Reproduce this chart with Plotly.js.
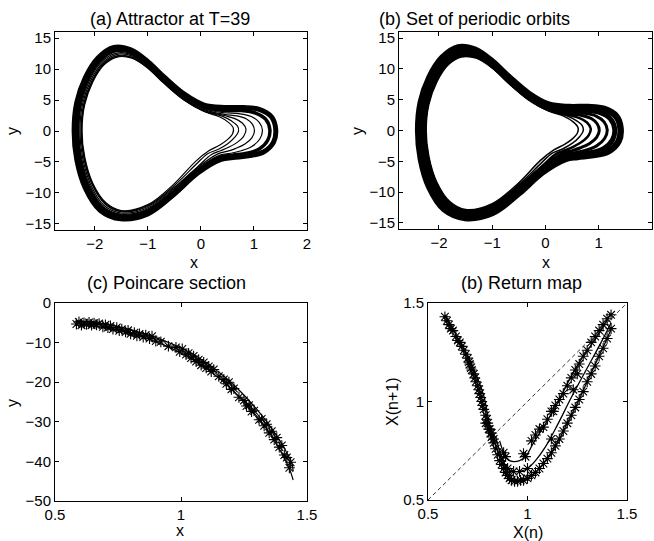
<!DOCTYPE html>
<html>
<head>
<meta charset="utf-8">
<script src="https://cdn.plot.ly/plotly-3.0.1.min.js"></script>
<style>html,body{margin:0;padding:0;background:#fff;}#chart{width:654px;height:541px;}</style>
</head>
<body>
<div id="chart"></div>
<script>
// ---------- (a)/(b) attractor orbits (x, y) ----------
var orbit1X = [-2.39,-2.34,-2.18,-1.94,-1.64,-1.32,-1.0,-0.69,-0.32,0.06,0.44,0.8,1.1,1.33,1.41,1.37,1.18,0.9,0.6,0.38,-0.06,-0.5,-1.0,-1.51,-1.9,-2.18,-2.34,-2.39];
var orbit1Y = [0,4.6,8.6,11.8,13.5,13.1,11.2,8.7,6.0,4.2,3.8,3.8,3.5,2.3,0.3,-1.8,-3.4,-4.0,-4.3,-4.6,-6.8,-10.2,-13.4,-14.2,-12.8,-9.2,-4.6,0];
var orbit2X = [-2.33,-2.28,-2.13,-1.9,-1.62,-1.31,-1.0,-0.69,-0.32,0.06,0.44,0.76,1.03,1.22,1.3,1.26,1.1,0.86,0.6,0.38,-0.06,-0.5,-1.0,-1.5,-1.87,-2.13,-2.28,-2.33];
var orbit2Y = [0,4.5,8.4,11.4,12.95,12.65,10.85,8.35,5.65,3.85,3.3,3.3,2.9,1.9,0.2,-1.5,-2.9,-3.6,-3.9,-4.2,-6.4,-9.8,-12.9,-13.75,-12.4,-8.9,-4.45,0];
var orbit3X = [-2.30,-2.25,-2.10,-1.88,-1.61,-1.31,-1.0,-0.69,-0.32,0.06,0.44,0.72,0.95,1.1,1.16,1.11,0.96,0.76,0.56,0.36,-0.06,-0.5,-1.0,-1.5,-1.85,-2.10,-2.25,-2.30];
var orbit3Y = [0,4.4,8.2,11.1,12.55,12.35,10.6,8.1,5.4,3.6,2.95,2.8,2.35,1.4,0.1,-1.3,-2.5,-3.2,-3.6,-3.9,-6.1,-9.5,-12.6,-13.45,-12.15,-8.7,-4.35,0];
var orbit4X = [-2.28,-2.23,-2.08,-1.86,-1.6,-1.3,-1.0,-0.69,-0.32,0.06,0.44,0.68,0.86,0.97,1.01,0.96,0.83,0.66,0.49,0.32,-0.06,-0.5,-1.0,-1.5,-1.83,-2.08,-2.23,-2.28];
var orbit4Y = [0,4.35,8.1,10.95,12.35,12.15,10.45,7.95,5.25,3.45,2.7,2.45,1.95,1.1,0.0,-1.1,-2.1,-2.8,-3.3,-3.7,-5.9,-9.3,-12.4,-13.25,-12.0,-8.6,-4.3,0];
var orbit5X = [-2.26,-2.21,-2.06,-1.85,-1.59,-1.3,-1.0,-0.69,-0.32,0.06,0.44,0.64,0.78,0.85,0.81,0.69,0.53,0.37,0.2,-0.06,-0.5,-1.0,-1.5,-1.81,-2.06,-2.21,-2.26];
var orbit5Y = [0,4.3,8.0,10.8,12.15,11.95,10.3,7.8,5.1,3.3,2.5,2.0,1.3,0.3,-0.8,-1.8,-2.6,-3.2,-3.8,-5.75,-9.1,-12.2,-13.05,-11.8,-8.5,-4.25,0];
var orbit6X = [-2.25,-2.2,-2.05,-1.84,-1.585,-1.3,-1.0,-0.69,-0.32,0.06,0.40,0.58,0.69,0.71,0.64,0.5,0.32,0.12,-0.08,-0.5,-1.0,-1.5,-1.8,-2.05,-2.2,-2.25];
var orbit6Y = [0,4.28,7.95,10.72,12.05,11.85,10.22,7.72,5.05,3.22,2.4,1.6,0.8,0.0,-1.0,-2.1,-3.0,-3.7,-5.3,-8.8,-12.05,-12.95,-11.7,-8.45,-4.22,0];
var orbit7X = [-2.24,-2.19,-2.04,-1.83,-1.58,-1.3,-1.0,-0.69,-0.32,0.06,0.35,0.52,0.61,0.6,0.5,0.35,0.15,-0.1,-0.5,-1.0,-1.5,-1.79,-2.04,-2.19,-2.24];
var orbit7Y = [0,4.25,7.9,10.65,11.95,11.75,10.15,7.65,5.0,3.15,2.3,1.4,0.5,-0.4,-1.4,-2.3,-3.2,-4.9,-8.5,-11.9,-12.85,-11.6,-8.4,-4.2,0];

// ---------- (c) Poincare section ----------
var secUpperX = [0.58,0.64,0.70,0.76,0.82,0.88,0.94,1.0,1.06,1.12,1.18,1.24,1.30,1.35,1.40,1.44,1.445];
var secUpperY = [-4.6,-4.8,-5.3,-6.1,-7.1,-8.3,-9.7,-11.3,-13.4,-16.0,-19.0,-22.6,-26.8,-30.8,-35.6,-40.5,-42.5];
var secLowerX = [0.60,0.66,0.72,0.78,0.84,0.90,0.96,1.02,1.08,1.14,1.20,1.26,1.31,1.36,1.40,1.43,1.445];
var secLowerY = [-5.6,-5.9,-6.5,-7.3,-8.4,-9.8,-11.4,-13.3,-15.6,-18.4,-21.7,-25.6,-29.3,-33.6,-38.0,-41.8,-44.7];
var secPtsX = [0.585,0.595,0.605,0.615,0.625,0.635,0.645,0.655,0.665,0.675,0.69,0.70,0.71,0.72,0.73,0.745,0.755,0.765,0.78,0.79,0.80,0.815,0.825,0.835,0.85,0.86,0.875,0.885,0.90,0.92,0.95,0.98,0.995,1.005,1.02,1.03,1.04,1.05,1.06,1.07,1.08,1.09,1.10,1.11,1.12,1.13,1.15,1.17,1.18,1.19,1.20,1.21,1.23,1.25,1.26,1.27,1.28,1.29,1.31,1.32,1.33,1.34,1.35,1.36,1.37,1.38,1.39,1.40,1.41,1.42,1.43,1.435];
var secPtsY = [-5.3,-4.8,-5.6,-5.0,-5.4,-4.9,-5.6,-5.1,-5.5,-5.2,-6.0,-5.5,-6.2,-5.8,-6.6,-6.2,-7.0,-6.6,-7.3,-6.9,-7.8,-7.5,-8.3,-7.8,-8.6,-8.1,-9.0,-8.4,-9.6,-9.8,-10.9,-11.2,-12.3,-11.6,-13.0,-12.7,-13.9,-13.4,-14.8,-14.3,-15.7,-15.0,-16.4,-16.0,-17.3,-16.8,-18.5,-19.3,-20.4,-20.0,-21.8,-21.6,-23.8,-24.6,-26.0,-25.8,-27.4,-27.2,-29.5,-29.3,-31.0,-30.6,-32.8,-32.4,-34.5,-34.0,-36.4,-36.0,-38.4,-39.0,-41.6,-40.2];

// ---------- (d) Return map ----------
var mapOuterX = [0.585,0.62,0.66,0.70,0.74,0.78,0.81,0.84,0.87,0.90,0.93,0.96,1.0,1.04,1.08,1.12,1.16,1.20,1.25,1.30,1.35,1.40,1.425];
var mapOuterY = [1.44,1.38,1.30,1.23,1.14,1.03,0.88,0.78,0.70,0.635,0.60,0.595,0.61,0.64,0.685,0.74,0.81,0.89,0.99,1.10,1.21,1.32,1.38];
var mapMidX = [0.84,0.87,0.90,0.93,0.96,1.0,1.04,1.09,1.15,1.22,1.30,1.37,1.42];
var mapMidY = [0.82,0.72,0.66,0.645,0.645,0.66,0.70,0.77,0.88,1.02,1.17,1.30,1.40];
var mapInnerX = [0.86,0.88,0.90,0.93,0.96,0.99,1.03,1.08,1.15,1.21,1.28,1.35,1.42];
var mapInnerY = [0.80,0.74,0.705,0.695,0.70,0.72,0.79,0.87,0.99,1.11,1.23,1.33,1.45];
var mapPtsX = [0.585,0.595,0.605,0.615,0.625,0.64,0.65,0.66,0.67,0.68,0.69,0.70,0.705,0.71,0.715,0.72,0.73,0.735,0.74,0.75,0.755,0.76,0.765,0.77,0.775,0.78,0.79,0.795,0.80,0.81,0.815,0.82,0.83,0.84,0.85,0.86,0.87,0.88,0.89,0.90,0.91,0.92,0.935,0.95,0.965,0.98,
  1.0,1.02,1.04,1.06,1.08,1.10,1.12,1.14,1.16,1.18,1.20,1.22,1.24,1.26,1.28,1.30,1.32,1.34,1.36,1.38,1.40,1.42,
  0.88,0.89,0.98,0.99,1.02,1.04,1.06,1.08,1.10,1.12,1.14,1.16,1.18,1.20,1.22,1.24,1.26,1.28,1.30,1.32,1.34,1.36,1.38,1.40,1.42,
  0.90,0.93,0.96,1.0,0.79,0.805,0.82,0.83,1.12,1.13,1.23,1.25];
var mapPtsY = [1.43,1.41,1.39,1.37,1.36,1.33,1.31,1.30,1.28,1.26,1.24,1.22,1.20,1.19,1.17,1.16,1.14,1.12,1.10,1.08,1.06,1.04,1.02,1.00,0.98,0.96,0.93,0.91,0.89,0.86,0.84,0.82,0.79,0.76,0.73,0.70,0.68,0.66,0.64,0.625,0.61,0.60,0.595,0.595,0.60,0.60,
  0.61,0.625,0.64,0.66,0.685,0.71,0.74,0.775,0.81,0.85,0.89,0.93,0.97,1.01,1.05,1.10,1.14,1.18,1.23,1.27,1.32,1.37,
  0.74,0.72,0.735,0.72,0.80,0.83,0.86,0.87,0.91,0.95,0.98,1.01,1.04,1.08,1.12,1.16,1.19,1.23,1.26,1.30,1.33,1.36,1.39,1.42,1.44,
  0.66,0.645,0.645,0.66,0.89,0.86,0.84,0.81,0.81,0.95,1.06,1.14];
var diagX = [0.5, 1.5];
var diagY = [0.5, 1.5];

// ---------- tick labels ----------
var attrXTicks = [-2,-1,0,1,2];
var attrYTicks = [-15,-10,-5,0,5,10,15];
var secXTicks = [0.5,1,1.5];
var secYTicks = [-50,-40,-30,-20,-10,0];
var mapTicks = [0.5,1,1.5];

var FONT = 'Liberation Sans, Arial, Helvetica, sans-serif';
var W = 654, H = 541;
function px(v){return v/W;}
function py(v){return 1 - v/H;}

var traces = [];
var orbits = [[orbit1X,orbit1Y],[orbit2X,orbit2Y],[orbit3X,orbit3Y],[orbit4X,orbit4Y],[orbit5X,orbit5Y],[orbit6X,orbit6Y],[orbit7X,orbit7Y]];
var widthsA = [5,3.5,1.2,1.2,1.2,1.2,1.2];
var widthsB = [6.5,5,3,3,2.5,1.5,1.5];
orbits.forEach(function(o,i){
  traces.push({type:'scatter',mode:'lines',x:o[0],y:o[1],xaxis:'x',yaxis:'y',
    line:{color:'#000',width:widthsA[i],shape:'spline',smoothing:1},hoverinfo:'skip'});
});
orbits.forEach(function(o,i){
  traces.push({type:'scatter',mode:'lines',x:o[0],y:o[1],xaxis:'x2',yaxis:'y2',
    line:{color:'#000',width:widthsB[i],shape:'spline',smoothing:1},hoverinfo:'skip'});
});
// (c)
traces.push({type:'scatter',mode:'lines',x:secUpperX,y:secUpperY,xaxis:'x3',yaxis:'y3',line:{color:'#000',width:1.2,shape:'spline'}});
traces.push({type:'scatter',mode:'lines',x:secLowerX,y:secLowerY,xaxis:'x3',yaxis:'y3',line:{color:'#000',width:1.2,shape:'spline'}});
traces.push({type:'scatter',mode:'markers',x:secPtsX,y:secPtsY,xaxis:'x3',yaxis:'y3',
  marker:{symbol:'asterisk-open',size:9,color:'#000',line:{color:'#000',width:1.1}}});
// (d)
traces.push({type:'scatter',mode:'lines',x:diagX,y:diagY,xaxis:'x4',yaxis:'y4',line:{color:'#000',width:0.8,dash:'4px,3px'}});
traces.push({type:'scatter',mode:'lines',x:mapOuterX,y:mapOuterY,xaxis:'x4',yaxis:'y4',line:{color:'#000',width:1.3,shape:'spline'}});
traces.push({type:'scatter',mode:'lines',x:mapMidX,y:mapMidY,xaxis:'x4',yaxis:'y4',line:{color:'#000',width:1.3,shape:'spline'}});
traces.push({type:'scatter',mode:'lines',x:mapInnerX,y:mapInnerY,xaxis:'x4',yaxis:'y4',line:{color:'#000',width:1.3,shape:'spline'}});
traces.push({type:'scatter',mode:'markers',x:mapPtsX,y:mapPtsY,xaxis:'x4',yaxis:'y4',
  marker:{symbol:'asterisk-open',size:9,color:'#000',line:{color:'#000',width:1.1}}});

function ax(domain, range, ticks, anchor){
  return {domain:domain, range:range, tickvals:ticks, anchor:anchor,
    showline:true, linecolor:'#000', linewidth:1, mirror:'ticks', ticks:'inside', ticklen:4, tickcolor:'#000', tickwidth:1,
    showgrid:false, zeroline:false, tickfont:{family:FONT,size:15,color:'#000'}, fixedrange:true};
}
function lab(text, x, y, rot){
  return {text:text, x:px(x), y:py(y), xref:'paper', yref:'paper', showarrow:false, xanchor:'center', yanchor:'middle',
    textangle:rot||0, font:{family:FONT,size:16,color:'#000'}};
}
function ttl(text, x, y){
  return {text:text, x:px(x), y:py(y), xref:'paper', yref:'paper', showarrow:false, xanchor:'center', yanchor:'middle',
    font:{family:FONT,size:18,color:'#000'}};
}

var layout = {
  width:W, height:H, margin:{l:0,r:0,t:0,b:0}, showlegend:false,
  paper_bgcolor:'#fff', plot_bgcolor:'#fff',
  xaxis: ax([px(55),px(307)],[-2.75,2],attrXTicks,'y'),
  yaxis: ax([py(230),py(32)],[-16,16],attrYTicks,'x'),
  xaxis2: ax([px(399),px(652)],[-2.75,2],attrXTicks,'y2'),
  yaxis2: ax([py(229),py(32)],[-16,16],attrYTicks,'x2'),
  xaxis3: ax([px(55),px(307)],[0.5,1.5],secXTicks,'y3'),
  yaxis3: ax([py(501),py(303)],[-50,0],secYTicks,'x3'),
  xaxis4: ax([px(428),px(627)],[0.5,1.5],mapTicks,'y4'),
  yaxis4: ax([py(500),py(303)],[0.5,1.5],mapTicks,'x4'),
  annotations:[
    ttl('(a) Attractor at T=39', 170, 19),
    ttl('(b) Set of periodic orbits', 474, 19),
    ttl('(c) Poincare section', 166, 283),
    ttl('(b) Return map', 521, 283),
    lab('x', 194, 262),
    lab('y', 13, 131, -90),
    lab('x', 546, 262),
    lab('y', 358, 131, -90),
    lab('x', 180, 530),
    lab('y', 12, 403, -90),
    lab('X(n)', 528, 532),
    lab('X(n+1)', 392, 402, -90)
  ]
};
Plotly.newPlot('chart', traces, layout, {staticPlot:true, displayModeBar:false});
</script>
</body>
</html>
